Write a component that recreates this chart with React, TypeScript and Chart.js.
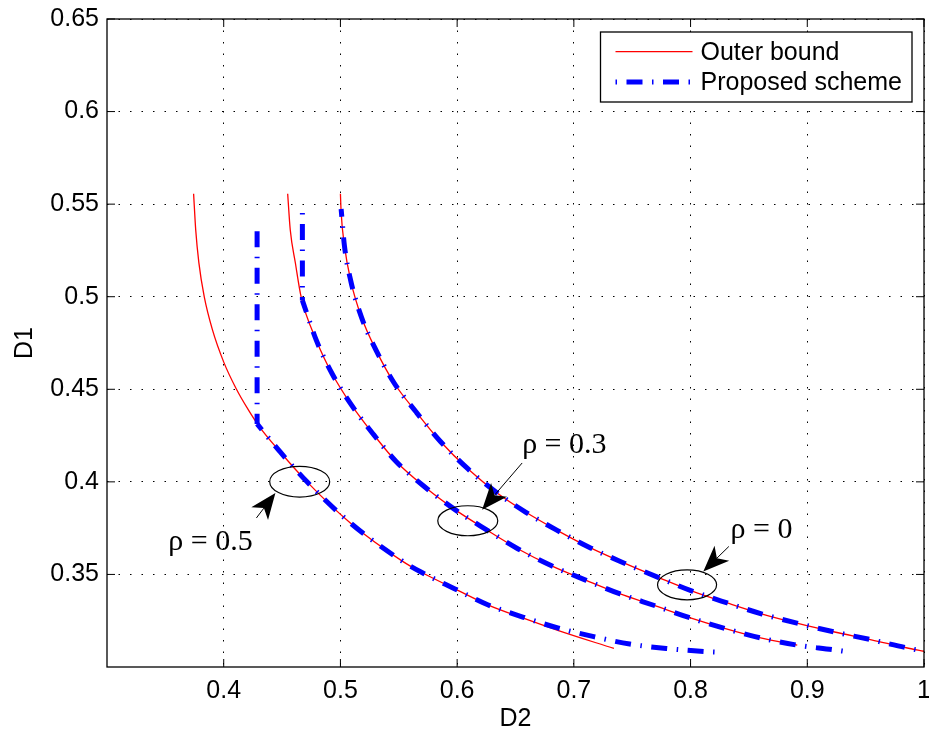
import React, { useEffect, useRef } from "react";
import { Chart, registerables } from "chart.js";

Chart.register(...registerables);

// ---- axis ticks ----
const xTicks = [0.4, 0.5, 0.6, 0.7, 0.8, 0.9, 1.0];
const yTicks = [0.35, 0.4, 0.45, 0.5, 0.55, 0.6, 0.65];

// ---- legend / titles ----
const legendLabels = ["Outer bound", "Proposed scheme"];
const xTitle = "D2";
const yTitle = "D1";

// ---- rho = 0 ----
const outer0X = [0.5, 0.5006, 0.5034, 0.5091, 0.518, 0.5306, 0.546, 0.5649, 0.5857, 0.6091, 0.6343, 0.6586, 0.6857, 0.7143, 0.7428, 0.7734, 0.8014, 0.8314, 0.8614, 0.8928, 0.9234, 0.9549, 0.9848, 1.0];
const outer0Y = [0.5556, 0.5458, 0.5277, 0.5079, 0.489, 0.471, 0.4534, 0.4377, 0.4218, 0.4071, 0.394, 0.3837, 0.3738, 0.3643, 0.3562, 0.3481, 0.341, 0.3346, 0.3286, 0.3234, 0.3189, 0.3147, 0.3104, 0.3085];
const scheme0X = [0.5006, 0.5034, 0.5091, 0.518, 0.5306, 0.546, 0.5649, 0.5857, 0.6091, 0.6343, 0.6586, 0.6857, 0.7143, 0.7428, 0.7734, 0.8014, 0.8314, 0.8614, 0.8928, 0.9234, 0.9549, 0.9848, 1.0];
const scheme0Y = [0.5474, 0.5277, 0.5079, 0.489, 0.471, 0.4534, 0.4377, 0.4218, 0.4071, 0.394, 0.3837, 0.3738, 0.3643, 0.3562, 0.3481, 0.341, 0.3346, 0.3286, 0.3234, 0.3189, 0.3147, 0.3104, 0.3085];

// ---- rho = 0.3 ----
const outer3X = [0.4548, 0.457, 0.4614, 0.4663, 0.4794, 0.4929, 0.5097, 0.5285, 0.5477, 0.5734, 0.5991, 0.6249, 0.6519, 0.6814, 0.7106, 0.7391, 0.77, 0.7985, 0.8291, 0.86, 0.8914];
const outer3Y = [0.5556, 0.5362, 0.5182, 0.5, 0.4764, 0.4584, 0.4413, 0.4255, 0.411, 0.3967, 0.3846, 0.3742, 0.3639, 0.3545, 0.3468, 0.3396, 0.333, 0.3268, 0.3209, 0.3157, 0.3118];
const scheme3VertX = [0.4674, 0.4674];
const scheme3VertY = [0.5452, 0.498];
const scheme3X = [0.4674, 0.4794, 0.4929, 0.5097, 0.5285, 0.5477, 0.5734, 0.5991, 0.6249, 0.6519, 0.6814, 0.7106, 0.7391, 0.77, 0.7985, 0.8291, 0.86, 0.8914, 0.9228, 0.9377];
const scheme3Y = [0.498, 0.4764, 0.4584, 0.4413, 0.4255, 0.411, 0.3967, 0.3846, 0.3742, 0.3639, 0.3545, 0.3468, 0.3396, 0.333, 0.3268, 0.3209, 0.3157, 0.3118, 0.3093, 0.3079];

// ---- rho = 0.5 ----
const outer5X = [0.3742, 0.376, 0.3787, 0.3833, 0.3903, 0.4002, 0.4107, 0.421, 0.43, 0.4486, 0.4714, 0.5085, 0.553, 0.569, 0.5977, 0.6262, 0.6562, 0.6862, 0.7343];
const outer5Y = [0.5556, 0.5362, 0.5184, 0.5, 0.4822, 0.4644, 0.4503, 0.439, 0.4303, 0.416, 0.4, 0.3778, 0.3572, 0.3513, 0.3423, 0.3336, 0.3265, 0.3198, 0.31];
const scheme5VertX = [0.4286, 0.4286];
const scheme5VertY = [0.5353, 0.4313];
const scheme5X = [0.4286, 0.4486, 0.4714, 0.5085, 0.553, 0.569, 0.5977, 0.6262, 0.6562, 0.6862, 0.7171, 0.7479, 0.7791, 0.8114, 0.827];
const scheme5Y = [0.4313, 0.416, 0.4, 0.3778, 0.3572, 0.3513, 0.3423, 0.3336, 0.327, 0.3211, 0.3164, 0.3124, 0.31, 0.3084, 0.3079];

// ---- annotations (data units) ----
const rhoLabels = ["\u03c1 = 0.5", "\u03c1 = 0.3", "\u03c1 = 0"];
const labelX = [0.3525, 0.6557, 0.8342];
const labelY = [0.3634, 0.4157, 0.3698];
const ellipseCX = [0.4651, 0.6091, 0.797];
const ellipseCY = [0.4001, 0.379, 0.3444];
const ellipseRX = [0.0257, 0.0257, 0.0253];
const ellipseRY = [0.0083, 0.0081, 0.0081];
const arrowTailX = [0.428, 0.6557, 0.8328];
const arrowTailY = [0.3805, 0.4102, 0.3651];
const arrowTipX = [0.4443, 0.6214, 0.8109];
const arrowTipY = [0.394, 0.385, 0.3516];

const SANS = '"Liberation Sans", Arial, Helvetica, sans-serif';
const SERIF = '"Liberation Serif", "Times New Roman", serif';
const DASH = [16, 9.5, 1.5, 9.5];

const fmt = (v: number) => String(parseFloat(Number(v).toFixed(2)));

const annotPlugin = {
  id: "annot",
  afterDatasetsDraw(chart: any) {
    const { ctx, chartArea: a, scales } = chart;
    const x = scales.x;
    const y = scales.y;
    ctx.save();
    ctx.setLineDash([]);
    // axes box
    ctx.strokeStyle = "#000";
    ctx.lineWidth = 1.3;
    ctx.strokeRect(a.left, a.top, a.right - a.left, a.bottom - a.top);
    // inward ticks
    const tl = 8;
    ctx.lineWidth = 1;
    ctx.beginPath();
    xTicks.forEach((v) => {
      const px = x.getPixelForValue(v);
      ctx.moveTo(px, a.bottom);
      ctx.lineTo(px, a.bottom - tl);
      ctx.moveTo(px, a.top);
      ctx.lineTo(px, a.top + tl);
    });
    yTicks.forEach((v) => {
      const py = y.getPixelForValue(v);
      ctx.moveTo(a.left, py);
      ctx.lineTo(a.left + tl, py);
      ctx.moveTo(a.right, py);
      ctx.lineTo(a.right - tl, py);
    });
    ctx.stroke();

    // ellipses
    ctx.lineWidth = 1.2;
    ellipseCX.forEach((cx, i) => {
      const px = x.getPixelForValue(cx);
      const py = y.getPixelForValue(ellipseCY[i]);
      const rx = Math.abs(x.getPixelForValue(cx + ellipseRX[i]) - px);
      const ry = Math.abs(y.getPixelForValue(ellipseCY[i] + ellipseRY[i]) - py);
      ctx.beginPath();
      ctx.ellipse(px, py, rx, ry, 0, 0, Math.PI * 2);
      ctx.stroke();
    });

    // arrows
    arrowTipX.forEach((tx, i) => {
      const tX = x.getPixelForValue(tx);
      const tY = y.getPixelForValue(arrowTipY[i]);
      const sX = x.getPixelForValue(arrowTailX[i]);
      const sY = y.getPixelForValue(arrowTailY[i]);
      const len = Math.hypot(tX - sX, tY - sY);
      const ux = (tX - sX) / len;
      const uy = (tY - sY) / len;
      const nx = -uy;
      const ny = ux;
      const L = 26, W = 10.5, N = 19;
      ctx.lineWidth = 1;
      ctx.beginPath();
      ctx.moveTo(sX, sY);
      ctx.lineTo(tX - ux * N, tY - uy * N);
      ctx.stroke();
      ctx.fillStyle = "#000";
      ctx.beginPath();
      ctx.moveTo(tX, tY);
      ctx.lineTo(tX - ux * L + nx * W, tY - uy * L + ny * W);
      ctx.lineTo(tX - ux * N, tY - uy * N);
      ctx.lineTo(tX - ux * L - nx * W, tY - uy * L - ny * W);
      ctx.closePath();
      ctx.fill();
    });

    // rho labels
    ctx.fillStyle = "#000";
    ctx.font = `30px ${SERIF}`;
    ctx.textAlign = "left";
    ctx.textBaseline = "alphabetic";
    rhoLabels.forEach((t, i) => {
      ctx.fillText(t, x.getPixelForValue(labelX[i]), y.getPixelForValue(labelY[i]));
    });

    // legend
    ctx.font = `25px ${SANS}`;
    const tw = Math.max(...legendLabels.map((t) => ctx.measureText(t).width));
    const bw = 100 + tw + 10;
    const bh = 70;
    const bx = a.right - 12 - bw;
    const by = a.top + 13;
    ctx.fillStyle = "#fff";
    ctx.fillRect(bx, by, bw, bh);
    ctx.strokeStyle = "#000";
    ctx.lineWidth = 1.3;
    ctx.strokeRect(bx, by, bw, bh);
    const r1 = by + 19.7;
    const r2 = by + 50;
    ctx.strokeStyle = "#ff0000";
    ctx.lineWidth = 1.3;
    ctx.beginPath();
    ctx.moveTo(bx + 15, r1);
    ctx.lineTo(bx + 92, r1);
    ctx.stroke();
    ctx.strokeStyle = "#0000ff";
    ctx.lineWidth = 5;
    ctx.lineCap = "butt";
    ctx.setLineDash(DASH);
    ctx.lineDashOffset = 25.5;
    ctx.beginPath();
    ctx.moveTo(bx + 15, r2);
    ctx.lineTo(bx + 92, r2);
    ctx.stroke();
    ctx.setLineDash([]);
    ctx.fillStyle = "#000";
    ctx.textBaseline = "middle";
    ctx.fillText(legendLabels[0], bx + 100, r1 + 1);
    ctx.fillText(legendLabels[1], bx + 100, r2 + 1);
    ctx.restore();
  },
};

export default function App() {
  const ref = useRef<HTMLCanvasElement>(null);
  useEffect(() => {
    const canvas = ref.current;
    if (!canvas) return;
    const pts = (xs: number[], ys: number[]) => xs.map((v, i) => ({ x: v, y: ys[i] }));
    const red = (xs: number[], ys: number[]) => ({
      label: legendLabels[0],
      data: pts(xs, ys),
      borderColor: "#ff0000",
      borderWidth: 1.3,
      pointRadius: 0,
      cubicInterpolationMode: "monotone",
      fill: false,
      order: 1,
    });
    const blue = (xs: number[], ys: number[], off: number, straight = false) => ({
      label: legendLabels[1],
      data: pts(xs, ys),
      borderColor: "#0000ff",
      borderWidth: 5,
      borderDash: DASH,
      borderDashOffset: off,
      borderCapStyle: "butt",
      pointRadius: 0,
      tension: 0,
      cubicInterpolationMode: straight ? "default" : "monotone",
      fill: false,
      order: 0,
    });
    const chart = new Chart(canvas, {
      type: "line",
      data: {
        datasets: [
          red(outer0X, outer0Y),
          red(outer3X, outer3Y),
          red(outer5X, outer5Y),
          blue(scheme0X, scheme0Y, 8),
          blue(scheme3VertX, scheme3VertY, 25.5, true),
          blue(scheme3X, scheme3Y, 3.4),
          blue(scheme5VertX, scheme5VertY, 0, true),
          blue(scheme5X, scheme5Y, 8.5),
        ] as any,
      },
      options: {
        responsive: false,
        animation: false,
        devicePixelRatio: 1,
        events: [],
        layout: { padding: { top: 19, right: 5, left: 0, bottom: 0 } },
        plugins: { legend: { display: false }, tooltip: { enabled: false } },
        scales: {
          x: {
            type: "linear",
            min: 0.3,
            max: 1.0,
            afterBuildTicks: (s: any) => {
              s.ticks = xTicks.map((v) => ({ value: v }));
            },
            afterFit: (s: any) => {
              s.height = 69;
              s.paddingLeft = 0;
              s.paddingRight = 0;
            },
            ticks: {
              padding: 9,
              color: "#000",
              autoSkip: false,
              maxRotation: 0,
              font: { family: SANS, size: 25 },
              callback: (v: any) => fmt(v),
            },
            grid: { color: "#000", lineWidth: 1, drawTicks: false },
            border: { display: false, dash: [1.5, 10] },
            title: {
              display: true,
              text: xTitle,
              color: "#000",
              font: { family: SANS, size: 25 },
              padding: { top: 0, bottom: 2 },
            },
          },
          y: {
            type: "linear",
            min: 0.3,
            max: 0.65,
            afterBuildTicks: (s: any) => {
              s.ticks = yTicks.map((v) => ({ value: v }));
            },
            afterFit: (s: any) => {
              s.width = 107;
              s.paddingTop = 0;
              s.paddingBottom = 0;
            },
            ticks: {
              padding: 8,
              color: "#000",
              autoSkip: false,
              font: { family: SANS, size: 25 },
              callback: (v: any) => fmt(v),
            },
            grid: { color: "#000", lineWidth: 1, drawTicks: false },
            border: { display: false, dash: [1.5, 10] },
            title: {
              display: true,
              text: yTitle,
              color: "#000",
              font: { family: SANS, size: 25 },
              padding: { top: 10, bottom: 0 },
            },
          },
        },
      } as any,
      plugins: [annotPlugin],
    });
    return () => chart.destroy();
  }, []);
  return (
    <div style={{ position: "absolute", left: 0, top: 0, width: 929, height: 736, background: "#fff" }}>
      <canvas ref={ref} width={929} height={736} style={{ display: "block", width: 929, height: 736 }} />
    </div>
  );
}
